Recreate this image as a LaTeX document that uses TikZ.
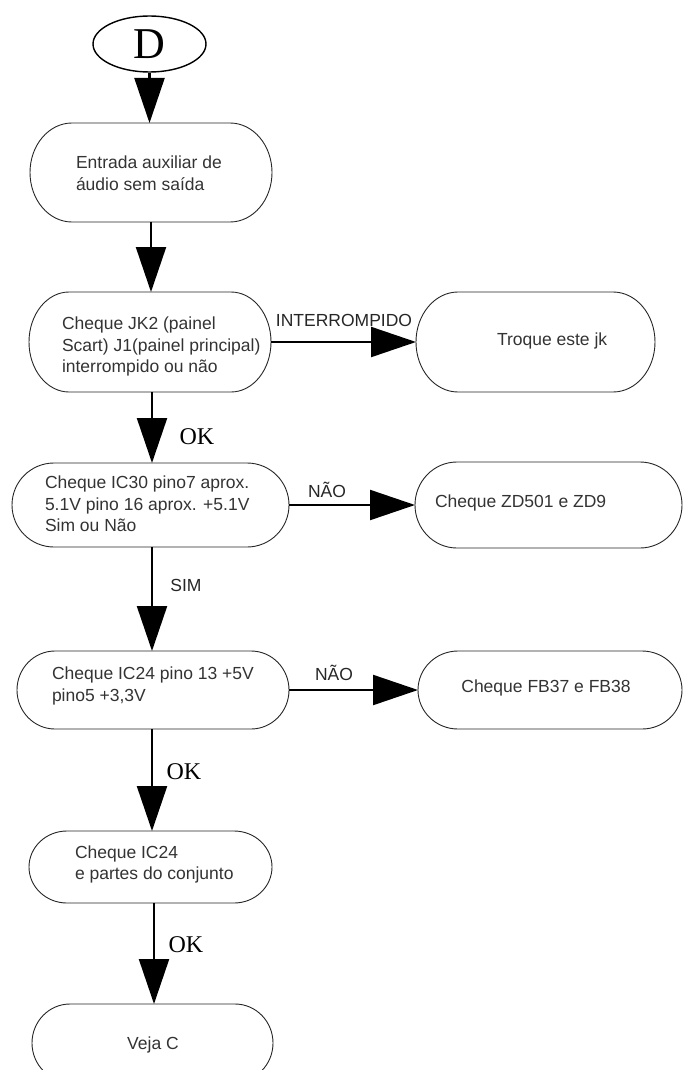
\documentclass[tikz,border=0pt]{standalone}
\usepackage{fontspec}
\setmainfont{Liberation Sans}
\newfontfamily\serifD{Liberation Serif}
\usetikzlibrary{arrows.meta,calc,shapes.geometric}

% outline of a terminal box: flat top and bottom, elliptic ends
\newcommand\stadiumoutline[3]{%
  \draw[outline] ($(#1.north west)+(#2pt,0)$) -- ($(#1.north east)+(-#2pt,0)$)
    arc[start angle=90,end angle=-90,x radius=#2pt,y radius=#3pt]
    -- ($(#1.south west)+(#2pt,0)$)
    arc[start angle=270,end angle=90,x radius=#2pt,y radius=#3pt] -- cycle;}

\begin{document}
\begin{tikzpicture}[x=1pt,y=-1pt,
  box/.style={rectangle,draw=none,inner sep=0pt,outer sep=0pt},
  outline/.style={draw=black!85,line width=0.9pt},
  txt/.style={inner sep=0pt,outer sep=0pt,align=left,
    font=\fontsize{17.5}{21.5}\selectfont,text=black!80},
  lbl/.style={txt,text=black!85},
  oklbl/.style={inner sep=0pt,outer sep=0pt,font=\serifD\fontsize{24}{24}\selectfont},
  conn/.style={line width=2.2pt,-{Triangle[length=45pt,width=30pt]}},
]
\useasboundingbox (0,0) rectangle (683,1070);
\clip (0,0) rectangle (683,1070);

% start connector
\node[ellipse,draw=black,line width=1.4pt,minimum width=113pt,minimum height=56pt,
  inner sep=0pt,font=\serifD\fontsize{44}{44}\selectfont] (D) at (149.5,44) {D};

% boxes of the main column
\node[box,minimum width=242pt,minimum height=99pt] (b1) at (151,172.5) {};
\node[box,minimum width=242pt,minimum height=100pt] (b2) at (150,342) {};
\node[box,minimum width=277pt,minimum height=84pt] (b3) at (150.5,505) {};
\node[box,minimum width=272pt,minimum height=78pt] (b4) at (153,690) {};
\node[box,minimum width=243pt,minimum height=72pt] (b5) at (150.5,867) {};
\node[box,minimum width=241pt,minimum height=78pt] (b6) at (152.5,1043) {};

% boxes of the side branches
\node[box,minimum width=239pt,minimum height=100pt] (t1) at (535.5,342) {};
\node[box,minimum width=267pt,minimum height=86pt] (t2) at (548.5,505) {};
\node[box,minimum width=264pt,minimum height=78pt] (t3) at (550,690) {};

\stadiumoutline{b1}{42}{49.5}
\stadiumoutline{b2}{40}{50}
\stadiumoutline{b3}{42}{42}
\stadiumoutline{b4}{38}{39}
\stadiumoutline{b5}{38}{36}
\stadiumoutline{b6}{38}{39}
\stadiumoutline{t1}{42}{50}
\stadiumoutline{t2}{42}{43}
\stadiumoutline{t3}{40}{39}

% box texts
\node[txt,anchor=west] (b1t) at (76,173) {Entrada auxiliar de\\áudio sem saída};
\node[txt,anchor=west] (b2t) at (62,346.5) {Cheque JK2 (painel\\Scart) J1(painel principal)\\interrompido ou não};
\node[txt,anchor=west] (b3t) at (45,504) {Cheque IC30 pino7 aprox.\\5.1V pino 16 aprox. +5.1V\\Sim ou Não};
\node[txt,anchor=west] (b4t) at (52,686) {Cheque IC24 pino 13 +5V\\pino5 +3,3V};
\node[txt,anchor=west] (b5t) at (75,864.5) {Cheque IC24\\e partes do conjunto};
\node[txt] (b6t) at (153,1045) {Veja C};
\node[txt,anchor=west] (t1t) at (497,341) {Troque este jk};
\node[txt,anchor=west] (t2t) at (435,503) {Cheque ZD501 e ZD9};
\node[txt] (t3t) at (546,688) {Cheque FB37 e FB38};

% connectors
\draw[conn] (D.south) -- (D.south |- b1.north);
\draw[conn] (b1.south) -- (b1.south |- b2.north);
\draw[conn] (152,392) -- (152,463);
\draw[conn] (152,547) -- (152,651);
\draw[conn] (152,729) -- (152,831);
\draw[conn] (154,903) -- (154,1004);
\draw[conn] (b2.east) -- (t1.west);
\draw[conn] (b3.east) -- (t2.west);
\draw[conn] (b4.east) -- (t3.west);

% connector labels
\node[lbl] (lint) at (344,320) {INTERROMPIDO};
\node[lbl] (lnao1) at (327,490) {NÃO};
\node[lbl] (lnao2) at (334,673) {NÃO};
\node[lbl] (lsim) at (186,585) {SIM};
\node[oklbl] (ok1) at (197,437) {OK};
\node[oklbl] (ok2) at (184,772) {OK};
\node[oklbl] (ok3) at (186,945) {OK};
\end{tikzpicture}
\end{document}
